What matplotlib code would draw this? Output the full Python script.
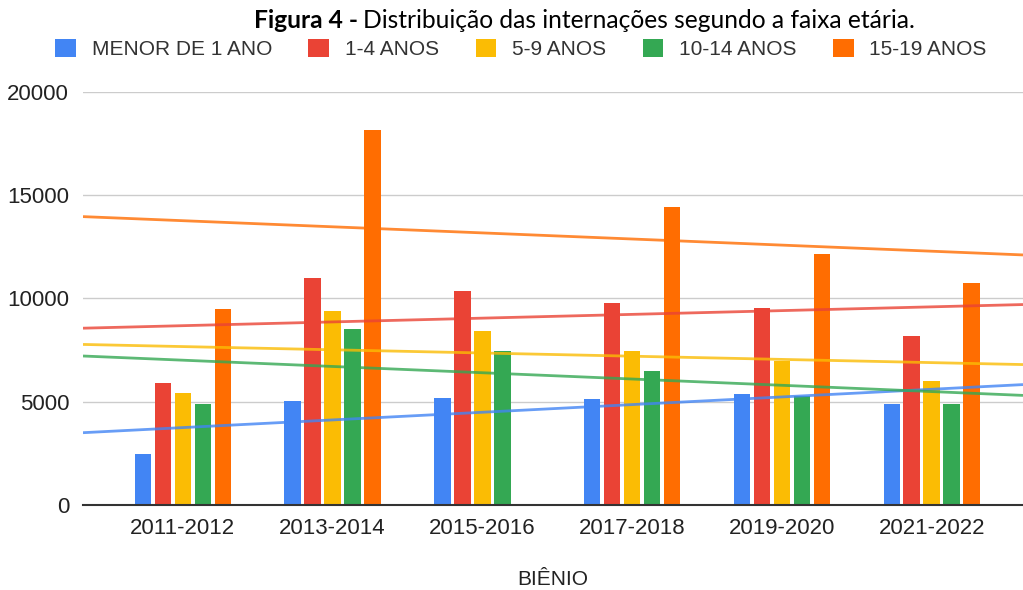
import numpy as np
import matplotlib
matplotlib.use("Agg")
import matplotlib.pyplot as plt
from matplotlib.patches import Patch

plt.rcParams["font.family"] = ["Liberation Sans", "DejaVu Sans"]

categories = ["2011-2012", "2013-2014", "2015-2016", "2017-2018", "2019-2020", "2021-2022"]
series_names = ["MENOR DE 1 ANO", "1-4 ANOS", "5-9 ANOS", "10-14 ANOS", "15-19 ANOS"]
menor_1 = [2470, 5030, 5190, 5110, 5350, 4890]
anos_1_4 = [5920, 11000, 10360, 9790, 9550, 8180]
anos_5_9 = [5440, 9390, 8420, 7450, 6970, 6000]
anos_10_14 = [4890, 8500, 7450, 6480, 5280, 4890]
anos_15_19 = [9470, 18150, np.nan, 14440, 12130, 10760]
colors = ["#4285F4", "#EA4335", "#FBBC04", "#34A853", "#FF6D01"]

series = [menor_1, anos_1_4, anos_5_9, anos_10_14, anos_15_19]

fig = plt.figure(figsize=(10.23, 5.9), dpi=100)
ax = fig.add_axes([83 / 1023, 1 - 505 / 590, 940 / 1023, (505 - 91.7) / 590])

x = np.arange(len(categories))
pitch = 0.1335
width = 0.109
xmin, xmax = -0.667, 5.61

for j, (vals, c) in enumerate(zip(series, colors)):
    vals = np.array(vals, dtype=float)
    ax.bar(x + (j - 2) * pitch, vals, width=width, color=c, zorder=2)

# linear trendlines (missing values ignored)
xs = np.array([xmin, xmax])
for vals, c in zip(series, colors):
    vals = np.array(vals, dtype=float)
    ok = ~np.isnan(vals)
    k, b = np.polyfit(x[ok], vals[ok], 1)
    ax.plot(xs, k * xs + b, color=c, lw=2, alpha=0.8, zorder=3, solid_capstyle="butt")

ax.set_xlim(xmin, xmax)
ax.set_ylim(0, 20000)
ax.set_yticks([0, 5000, 10000, 15000, 20000])
ax.set_xticks(x)
ax.set_xticklabels(categories)
ax.tick_params(length=0, labelsize=16, labelcolor="#222222")
ax.tick_params(axis="x", pad=9)
ax.tick_params(axis="y", pad=10)
for s in ["top", "right", "left"]:
    ax.spines[s].set_visible(False)
ax.spines["bottom"].set_color("#333333")
ax.spines["bottom"].set_linewidth(1.5)
ax.spines["bottom"].set_zorder(4)
ax.grid(axis="y", color="#cccccc", lw=1, zorder=0)
ax.set_axisbelow(True)
ax.set_xlabel("BIÊNIO", fontsize=15, color="#222222", labelpad=23)

handles = [Patch(facecolor=c, edgecolor="none") for c in colors]
leg = fig.legend(handles, series_names, loc="center", bbox_to_anchor=(521 / 1023, 1 - 49 / 590),
                 ncol=5, frameon=False, prop={"size": 15},
                 handlelength=1.0, handleheight=1.0, handletextpad=0.75, columnspacing=1.75)
for t in leg.get_texts():
    t.set_color("#333333")

# title in two parts: bold prefix, regular rest
fig.canvas.draw()
t1 = fig.text(254 / 1023, 1 - 20 / 590, "Figura 4 -", fontsize=17.7, fontweight="bold",
              family="Lato", va="center", ha="left")
fig.canvas.draw()
bb = t1.get_window_extent()
fig.text((bb.x1 + 5) / 1023, 1 - 20 / 590, "Distribuição das internações segundo a faixa etária.",
         fontsize=17.7, family="Lato", va="center", ha="left")

fig.savefig("out.png", dpi=100)
